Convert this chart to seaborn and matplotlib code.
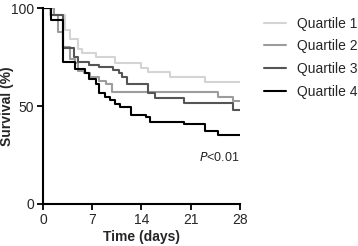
import numpy as np
import pandas as pd
import matplotlib as mpl
mpl.use('Agg')
import matplotlib.pyplot as plt
import seaborn as sns

# step points (day, survival %)
q1_t = [0, 1.0, 3.1, 3.8, 5.0, 5.5, 7.5, 10.2, 14.0, 14.9, 18.0, 23.0, 28]
q1_s = [100, 96.5, 89, 84, 79, 77, 75, 71.8, 69.2, 67.5, 65, 62.4, 62.4]
q2_t = [0, 1.5, 2.2, 2.9, 3.8, 4.6, 5.0, 5.9, 6.7, 8.0, 9.0, 9.8, 24.9, 27.0, 28]
q2_s = [100, 96.5, 88, 80, 74, 72, 68, 67, 65, 63, 61, 57.4, 54.7, 52.5, 52.5]
q3_t = [0, 1.2, 2.9, 4.4, 5.0, 6.6, 8.0, 10.0, 10.8, 11.3, 12.0, 15.0, 16.0, 20.0, 27.0, 28]
q3_s = [100, 96.4, 79.6, 75, 72.5, 71, 70, 68.4, 67, 65, 61.5, 56.8, 54.3, 51.7, 48, 48]
q4_t = [0, 1.2, 2.9, 4.6, 6.0, 6.6, 7.5, 8.0, 8.8, 9.6, 10.2, 10.9, 12.5, 14.6, 15.2, 20.0, 23.0, 24.9, 28]
q4_s = [100, 94, 72.5, 69, 67, 64, 61.5, 56.5, 54.7, 53, 51, 49.5, 45.4, 44.4, 42, 40.8, 37, 35.2, 35.2]

groups = ['Quartile 1', 'Quartile 2', 'Quartile 3', 'Quartile 4']
times = [q1_t, q2_t, q3_t, q4_t]
surv = [q1_s, q2_s, q3_s, q4_s]
colors = ['#d4d4d4', '#9c9c9c', '#555555', '#000000']

rows = []
for g, t, s in zip(groups, times, surv):
    for a, b in zip(t, s):
        rows.append((g, a, b))
df = pd.DataFrame(rows, columns=['group', 'time', 'surv'])

sns.set_style('ticks')
plt.rcParams['font.family'] = ['Liberation Sans', 'DejaVu Sans']

fig = plt.figure(figsize=(3.58, 2.46), dpi=100)
ax = fig.add_axes([0.120, 0.171, 0.550, 0.796])

sns.lineplot(data=df, x='time', y='surv', hue='group', palette=colors,
             estimator=None, drawstyle='steps-post', linewidth=1.5, ax=ax)

ax.set_xlim(0, 28)
ax.set_ylim(0, 100)
ax.set_xticks([0, 7, 14, 21, 28])
ax.set_yticks([0, 50, 100])
ax.tick_params(labelsize=10, width=1.3, length=4.5, color='black', pad=2)
for side in ['left', 'bottom']:
    ax.spines[side].set_linewidth(1.5)
    ax.spines[side].set_color('black')
sns.despine(ax=ax)
ax.set_xlabel('Time (days)', fontsize=10, fontweight='bold')
ax.set_ylabel('Survival (%)', fontsize=10, fontweight='bold')
ax.xaxis.set_label_coords(0.5, -0.135)
ax.yaxis.set_label_coords(-0.145, 0.5)

ax.text(28, 23.5, r'$P$<0.01', ha='right', va='center', fontsize=9)

leg = ax.legend(loc='upper left', bbox_to_anchor=(1.06, 1.02), frameon=False,
                fontsize=10, handlelength=1.6, handletextpad=0.75, labelspacing=0.62)
for line in leg.get_lines():
    line.set_linewidth(1.5)

fig.savefig('out.png', dpi=100)
